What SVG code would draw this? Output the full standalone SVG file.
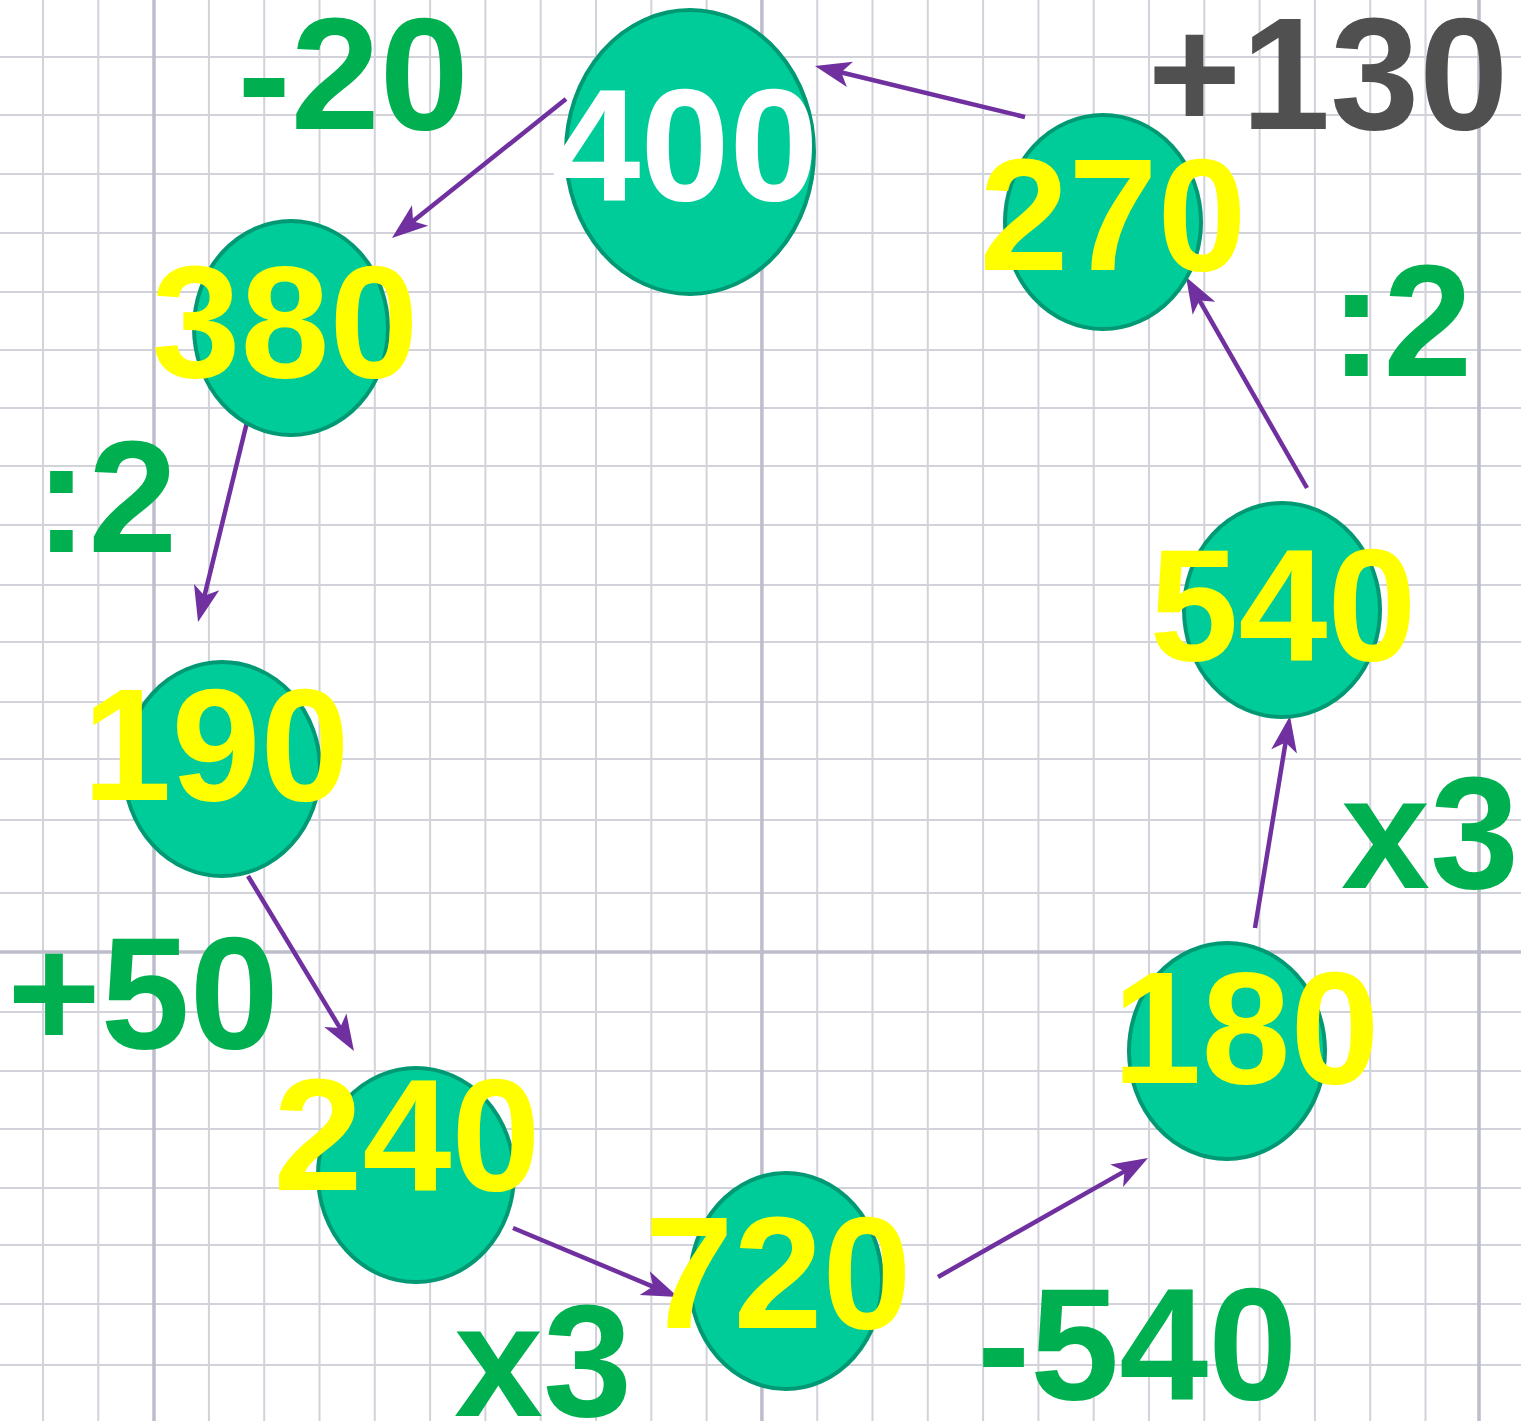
<svg xmlns="http://www.w3.org/2000/svg" width="1521" height="1421" viewBox="0 0 1521 1421">
<style>
.g{stroke:#D2D2DA;stroke-width:2}
.gd{stroke:#BDBDCB;stroke-width:3.5}
.node{fill:#00CC99;stroke:#009973;stroke-width:4}
.num{font-family:"Liberation Sans",Arial,sans-serif;font-weight:bold;font-size:160px;text-anchor:middle;fill:#FFFF00}
.op{font-family:"Liberation Sans",Arial,sans-serif;font-weight:bold;font-size:160px;text-anchor:middle;fill:#00B050}
.arr{stroke:#7030A0;stroke-width:4.5;fill:none;marker-end:url(#ah)}
</style>
<defs>
<marker id="ah" markerUnits="userSpaceOnUse" viewBox="0 0 40 30" markerWidth="40" markerHeight="30" refX="18" refY="15" orient="auto">
<path d="M38,15 L2,2 L11,15 L2,28 Z" fill="#7030A0"/>
</marker>
</defs>
<rect x="0" y="0" width="1521" height="1421" fill="#FFFFFF"/>
<g id="grid">
<g class="g">
<line x1="43" y1="0" x2="43" y2="1421"/>
<line x1="98.3" y1="0" x2="98.3" y2="1421"/>
<line x1="208.9" y1="0" x2="208.9" y2="1421"/>
<line x1="264.2" y1="0" x2="264.2" y2="1421"/>
<line x1="319.5" y1="0" x2="319.5" y2="1421"/>
<line x1="374.8" y1="0" x2="374.8" y2="1421"/>
<line x1="430.1" y1="0" x2="430.1" y2="1421"/>
<line x1="485.4" y1="0" x2="485.4" y2="1421"/>
<line x1="540.7" y1="0" x2="540.7" y2="1421"/>
<line x1="596" y1="0" x2="596" y2="1421"/>
<line x1="651.3" y1="0" x2="651.3" y2="1421"/>
<line x1="706.6" y1="0" x2="706.6" y2="1421"/>
<line x1="817.2" y1="0" x2="817.2" y2="1421"/>
<line x1="872.5" y1="0" x2="872.5" y2="1421"/>
<line x1="927.8" y1="0" x2="927.8" y2="1421"/>
<line x1="983.1" y1="0" x2="983.1" y2="1421"/>
<line x1="1038.4" y1="0" x2="1038.4" y2="1421"/>
<line x1="1093.7" y1="0" x2="1093.7" y2="1421"/>
<line x1="1149" y1="0" x2="1149" y2="1421"/>
<line x1="1204.3" y1="0" x2="1204.3" y2="1421"/>
<line x1="1259.6" y1="0" x2="1259.6" y2="1421"/>
<line x1="1314.9" y1="0" x2="1314.9" y2="1421"/>
<line x1="1370.2" y1="0" x2="1370.2" y2="1421"/>
<line x1="1425.5" y1="0" x2="1425.5" y2="1421"/>
<line x1="0" y1="57" x2="1521" y2="57"/>
<line x1="0" y1="115" x2="1521" y2="115"/>
<line x1="0" y1="174" x2="1521" y2="174"/>
<line x1="0" y1="233" x2="1521" y2="233"/>
<line x1="0" y1="292" x2="1521" y2="292"/>
<line x1="0" y1="350" x2="1521" y2="350"/>
<line x1="0" y1="408" x2="1521" y2="408"/>
<line x1="0" y1="466" x2="1521" y2="466"/>
<line x1="0" y1="525" x2="1521" y2="525"/>
<line x1="0" y1="585" x2="1521" y2="585"/>
<line x1="0" y1="642" x2="1521" y2="642"/>
<line x1="0" y1="702" x2="1521" y2="702"/>
<line x1="0" y1="759" x2="1521" y2="759"/>
<line x1="0" y1="820" x2="1521" y2="820"/>
<line x1="0" y1="893" x2="1521" y2="893"/>
<line x1="0" y1="1012" x2="1521" y2="1012"/>
<line x1="0" y1="1071" x2="1521" y2="1071"/>
<line x1="0" y1="1129" x2="1521" y2="1129"/>
<line x1="0" y1="1188" x2="1521" y2="1188"/>
<line x1="0" y1="1245" x2="1521" y2="1245"/>
<line x1="0" y1="1304" x2="1521" y2="1304"/>
<line x1="0" y1="1365" x2="1521" y2="1365"/>
</g>
<g class="gd">
<line x1="154" y1="0" x2="154" y2="1421"/>
<line x1="761.9" y1="0" x2="761.9" y2="1421"/>
<line x1="1479" y1="0" x2="1479" y2="1421"/>
<line x1="0" y1="952" x2="1521" y2="952"/>
</g>
</g>
<g id="connectors">
<line class="arr" x1="566" y1="99" x2="407.6" y2="225.5"/>
<line class="arr" x1="248" y1="418" x2="202.8" y2="602.6"/>
<line class="arr" x1="248" y1="876" x2="343.6" y2="1033.9"/>
<line class="arr" x1="513" y1="1228" x2="659.5" y2="1289.3"/>
<line class="arr" x1="938" y1="1277" x2="1130.6" y2="1167.9"/>
<line class="arr" x1="1255" y1="928" x2="1286.7" y2="735.7"/>
<line class="arr" x1="1307" y1="488" x2="1196" y2="294.4"/>
<line class="arr" x1="1025" y1="117" x2="834.4" y2="70.7"/>
</g>
<g id="n400"><ellipse class="node" cx="690" cy="152" rx="124" ry="142"/><text class="num" x="685" y="200" style="fill:#FFFFFF">400</text></g>
<g id="n380"><ellipse class="node" cx="291" cy="328" rx="97" ry="107"/><text class="num" x="285" y="377">380</text></g>
<g id="n190"><ellipse class="node" cx="222" cy="769" rx="98" ry="107"/><text class="num" x="216" y="800">190</text></g>
<g id="n240"><ellipse class="node" cx="416" cy="1175" rx="98" ry="107"/><text class="num" x="407" y="1190">240</text></g>
<g id="n720"><ellipse class="node" cx="786" cy="1281" rx="96" ry="108"/><text class="num" x="778" y="1328">720</text></g>
<g id="n180"><ellipse class="node" cx="1227" cy="1051" rx="98" ry="108"/><text class="num" x="1246" y="1083">180</text></g>
<g id="n540"><ellipse class="node" cx="1282" cy="610" rx="98" ry="107"/><text class="num" x="1283" y="660">540</text></g>
<g id="n270"><ellipse class="node" cx="1103" cy="222" rx="98" ry="107"/><text class="num" x="1113" y="270">270</text></g>
<g id="labels">
<text class="op" x="353" y="129">-20</text>
<text class="op" x="1328" y="129" style="fill:#505050">+130</text>
<text class="op" x="1401" y="376">:2</text>
<text class="op" x="106" y="552">:2</text>
<text class="op" x="143" y="1048">+50</text>
<text class="op" x="543" y="1416">x3</text>
<text class="op" x="1137" y="1399">-540</text>
<text class="op" x="1430" y="888">x3</text>
</g>
</svg>
